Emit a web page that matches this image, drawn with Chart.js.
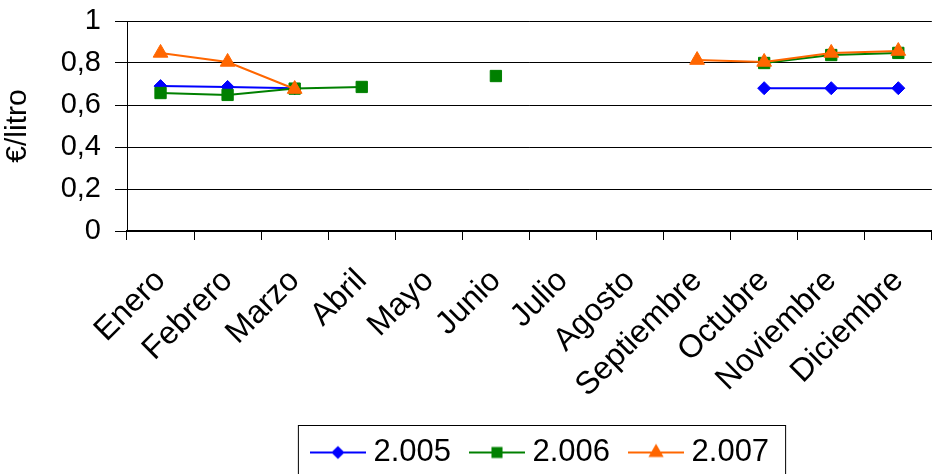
<!DOCTYPE html>
<html lang="es">
<head>
  <meta charset="UTF-8">
  <title>€/litro</title>
  <script src="https://cdn.jsdelivr.net/npm/chart.js@4.4.1/dist/chart.umd.min.js"></script>
  <style>
    html, body { margin: 0; padding: 0; background: #fff; }
    #wrap { width: 948px; height: 474px; }
  </style>
</head>
<body>
  <div id="wrap"><canvas id="precios"></canvas></div>

  <script>
    // datos
    const meses = ['Enero', 'Febrero', 'Marzo', 'Abril', 'Mayo', 'Junio', 'Julio',
      'Agosto', 'Septiembre', 'Octubre', 'Noviembre', 'Diciembre'];
    const serie2005 = [0.69, 0.686, 0.68, null, null, null, null, null, null, 0.68, 0.68, 0.68];
    const serie2006 = [0.657, 0.648, 0.678, 0.686, null, 0.738, null, null, null, 0.80, 0.838, 0.848];
    const serie2007 = [0.848, 0.805, 0.676, null, null, null, null, null, 0.814, 0.805, 0.848, 0.857];
    const nombres = ['2.005', '2.006', '2.007'];
    const colores = ['#0000ff', '#008000', '#ff6600'];
    const marcadores = ['rectRot', 'rect', 'triangle'];
    const radios = [6.5, 8, 8.5];

    const fuente = 'Liberation Sans, Arial, sans-serif';

    // icono de leyenda: linea con marcador en medio
    function iconoLeyenda(i) {
      const c = document.createElement('canvas');
      c.width = 56; c.height = 20;
      const g = c.getContext('2d');
      g.strokeStyle = colores[i];
      g.lineWidth = 2;
      g.beginPath(); g.moveTo(0, 10); g.lineTo(56, 10); g.stroke();
      Chart.helpers.drawPoint(g, {
        pointStyle: marcadores[i], radius: radios[i] * 0.8, rotation: 0, borderWidth: 1
      }, 28, 10);
      g.fillStyle = colores[i];
      g.fill();
      return c;
    }

    // la leyenda del original no esta centrada; se desplaza y se enmarca
    const marcoLeyenda = {
      id: 'marcoLeyenda',
      afterLayout(chart) {
        chart.legend.left += 76;
        chart.legend.right += 76;
      },
      afterDraw(chart) {
        const cajas = chart.legend.legendHitBoxes;
        if (!cajas || !cajas.length) return;
        const ultima = cajas[cajas.length - 1];
        const ctx = chart.ctx;
        const x0 = cajas[0].left - 20;
        const x1 = ultima.left + ultima.width + 16;
        const y0 = cajas[0].top - 12;
        ctx.save();
        ctx.strokeStyle = '#000';
        ctx.lineWidth = 1;
        ctx.strokeRect(x0 + 0.5, y0 + 0.5, x1 - x0, chart.height + 20 - y0);
        ctx.restore();
      }
    };

    const series = [serie2005, serie2006, serie2007];
    const datasets = series.map((d, i) => ({
      label: nombres[i],
      data: d,
      borderColor: colores[i],
      backgroundColor: colores[i],
      borderWidth: 2,
      pointStyle: marcadores[i],
      pointRadius: radios[i],
      pointHoverRadius: radios[i],
      pointBorderWidth: 1,
      spanGaps: false,
      tension: 0,
      order: 2 - i
    }));

    new Chart(document.getElementById('precios'), {
      type: 'line',
      data: { labels: meses, datasets: datasets },
      options: {
        responsive: true,
        maintainAspectRatio: false,
        animation: false,
        layout: { padding: { top: 2, right: 13, left: 0, bottom: -4 } },
        plugins: {
          tooltip: { enabled: false },
          legend: {
            position: 'bottom',
            labels: {
              color: '#000',
              font: { family: fuente, size: 31 },
              usePointStyle: true,
              pointStyleWidth: 40,
              padding: 26,
              generateLabels(chart) {
                return chart.data.datasets.map((ds, i) => ({
                  text: ds.label,
                  pointStyle: iconoLeyenda(i),
                  datasetIndex: i,
                  fontColor: '#000',
                  lineWidth: 0,
                  strokeStyle: 'transparent',
                  fillStyle: 'transparent'
                }));
              }
            }
          }
        },
        scales: {
          x: {
            offset: true,
            grid: {
              offset: true,
              drawOnChartArea: false,
              color: '#000',
              tickLength: 9
            },
            border: { display: true, color: '#000', width: 2 },
            ticks: {
              color: '#000',
              font: { family: fuente, size: 32 },
              minRotation: 45,
              maxRotation: 45,
              autoSkip: false,
              padding: 22
            },
            afterFit(scale) { scale.height = 180; }
          },
          y: {
            min: 0,
            max: 1,
            grid: { color: '#000', tickLength: 12 },
            border: { display: true, color: '#000', width: 1 },
            ticks: {
              stepSize: 0.2,
              color: '#000',
              font: { family: fuente, size: 29 },
              padding: 14,
              callback: v => String(Number(v.toFixed(1))).replace('.', ',')
            },
            title: {
              display: true,
              text: '€/litro',
              color: '#000',
              font: { family: fuente, size: 30 },
              padding: { top: 0, bottom: 0 }
            },
            afterFit(scale) {
              scale.width = 127;
              scale.paddingTop = 21;
            }
          }
        }
      },
      plugins: [marcoLeyenda]
    });
  </script>
</body>
</html>
